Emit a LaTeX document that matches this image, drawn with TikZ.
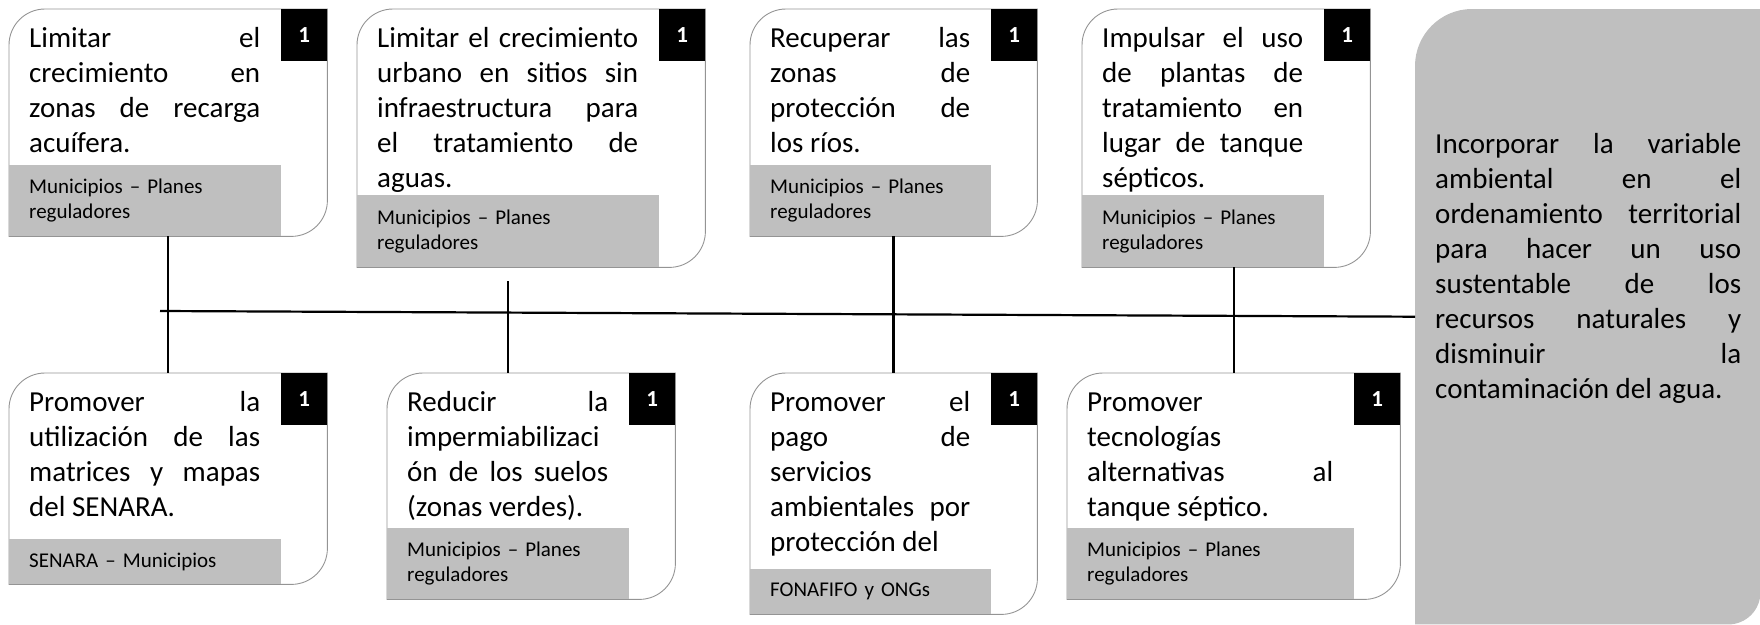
\documentclass[tikz,border=0pt]{standalone}
\usepackage{fontspec}
\setmainfont{Carlito}
\definecolor{bandgray}{RGB}{191,191,191}

\begin{document}
\begin{tikzpicture}[x=1pt,y=1pt,
  card/.style={rectangle,inner sep=0pt,anchor=north west},
  frame/.style={draw=black!42,line width=0.9pt},
  task/.style={inner sep=0pt,anchor=north west,align=justify,
    font={\fontsize{29}{35}\selectfont\pretolerance=10000\hbadness=10000}},
  band/.style={fill=bandgray,inner xsep=20pt,inner ysep=0pt,anchor=south west,
    align=left,font={\fontsize{21}{25}\selectfont}},
  num/.style={fill=black,text=white,inner sep=0pt,anchor=north east,
    minimum width=46pt,minimum height=52pt,font={\fontsize{23}{23}\selectfont\bfseries}},
  link/.style={line width=2.2pt}]

\useasboundingbox (0,0) rectangle (1760,-624);

% goal box on the right
\node[card,minimum width=345pt,minimum height=615pt] (goal) at (1415,-9) {};
\fill[bandgray] (goal.south west) -- ([yshift=-57pt]goal.north west)
  arc[start angle=180,end angle=90,radius=57pt] -- (goal.north east)
  -- ([yshift=32pt]goal.south east) arc[start angle=0,end angle=-90,radius=32pt] -- cycle;
\node[task,text width=306pt] (goal-txt) at ([xshift=20pt,yshift=-119.5pt]goal.north west)
  {\strut Incorporar la variable\linebreak ambiental en el\linebreak
   ordenamiento territorial\linebreak para hacer un uso\linebreak
   sustentable de los\linebreak recursos naturales y\linebreak
   disminuir la\linebreak contaminación del agua.};

% cards
\node[card,minimum width=318pt,minimum height=227pt] (a) at (9,-9) {};
\node[card,minimum width=348pt,minimum height=258pt] (b) at (357,-9) {};
\node[card,minimum width=287pt,minimum height=227pt] (c) at (750,-9) {};
\node[card,minimum width=288pt,minimum height=258pt] (d) at (1082,-9) {};
\node[card,minimum width=318pt,minimum height=211pt] (e) at (9,-373) {};
\node[card,minimum width=288pt,minimum height=226pt] (f) at (387,-373) {};
\node[card,minimum width=287pt,minimum height=241pt] (g) at (750,-373) {};
\node[card,minimum width=333pt,minimum height=226pt] (h) at (1067,-373) {};

\foreach \n in {a,b,c,d,e,f,g,h}
  \draw[frame] (\n.south west) -- ([yshift=-36pt]\n.north west)
    arc[start angle=180,end angle=90,radius=36pt] -- (\n.north east)
    -- ([yshift=36pt]\n.south east) arc[start angle=0,end angle=-90,radius=36pt] -- cycle;

% top row
\node[band,text width=232pt,minimum height=71pt] (a-src) at (a.south west) {Municipios – Planes\\reguladores};
\node[num] (a-no) at (a.north east) {1};
\node[task,text width=231pt] (a-txt) at ([xshift=20pt,yshift=-13.5pt]a.north west)
  {\strut Limitar el\linebreak crecimiento en\linebreak zonas de recarga\linebreak acuífera.};

\node[band,text width=262pt,minimum height=72pt] (b-src) at (b.south west) {Municipios – Planes\\reguladores};
\node[num] (b-no) at (b.north east) {1};
\node[task,text width=261pt] (b-txt) at ([xshift=20pt,yshift=-13.5pt]b.north west)
  {\strut Limitar el crecimiento\linebreak urbano en sitios sin\linebreak infraestructura para\linebreak el tratamiento de\linebreak aguas.};

\node[band,text width=201pt,minimum height=71pt] (c-src) at (c.south west) {Municipios – Planes\\reguladores};
\node[num] (c-no) at (c.north east) {1};
\node[task,text width=200pt] (c-txt) at ([xshift=20pt,yshift=-13.5pt]c.north west)
  {\strut Recuperar las\linebreak zonas de\linebreak protección de\linebreak los ríos.};

\node[band,text width=202pt,minimum height=72pt] (d-src) at (d.south west) {Municipios – Planes\\reguladores};
\node[num] (d-no) at (d.north east) {1};
\node[task,text width=201pt] (d-txt) at ([xshift=20pt,yshift=-13.5pt]d.north west)
  {\strut Impulsar el uso\linebreak de plantas de\linebreak tratamiento en\linebreak lugar de tanque\linebreak sépticos.};

% bottom row
\node[band,text width=232pt,minimum height=45pt] (e-src) at (e.south west) {SENARA – Municipios};
\node[num] (e-no) at (e.north east) {1};
\node[task,text width=231pt] (e-txt) at ([xshift=20pt,yshift=-13.5pt]e.north west)
  {\strut Promover la\linebreak utilización de las\linebreak matrices y mapas\linebreak del SENARA.};

\node[band,text width=202pt,minimum height=71pt] (f-src) at (f.south west) {Municipios – Planes\\reguladores};
\node[num] (f-no) at (f.north east) {1};
\node[task,text width=201pt] (f-txt) at ([xshift=20pt,yshift=-13.5pt]f.north west)
  {\strut Reducir la\linebreak impermiabilizaci\linebreak ón de los suelos\linebreak (zonas verdes).};

\node[band,text width=201pt,minimum height=45pt] (g-src) at (g.south west) {FONAFIFO y ONGs};
\node[num] (g-no) at (g.north east) {1};
\node[task,text width=200pt] (g-txt) at ([xshift=20pt,yshift=-13.5pt]g.north west)
  {\parfillskip=0pt\strut Promover el\linebreak pago de\linebreak servicios\linebreak ambientales por\linebreak protección del};

\node[band,text width=247pt,minimum height=71pt] (h-src) at (h.south west) {Municipios – Planes\\reguladores};
\node[num] (h-no) at (h.north east) {1};
\node[task,text width=246pt] (h-txt) at ([xshift=20pt,yshift=-13.5pt]h.north west)
  {\strut Promover\linebreak tecnologías\linebreak alternativas al\linebreak tanque séptico.};

% connectors
\coordinate (spine) at (160,-311);
\coordinate (b-drop) at (508,-281);
\draw[link] (spine) -- (goal.west);
\draw[link] (a.south) -- (e.north);
\draw[link] (b-drop) -- (b-drop |- f.north);
\draw[link,line width=2.8pt] (c.south) -- (g.north);
\draw[link] (h.north |- d.south) -- (h.north);
\end{tikzpicture}
\end{document}
